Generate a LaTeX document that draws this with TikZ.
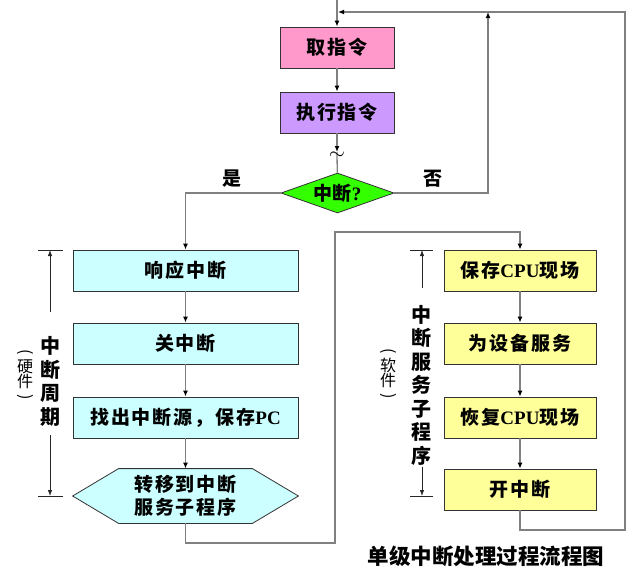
\documentclass[tikz,border=0pt]{standalone}
\usepackage{fontspec}
\setmainfont{Liberation Serif}
\newfontfamily\cjk{Noto Sans CJK SC}[LetterSpace=10]
\newfontfamily\cjkplain{Noto Sans CJK SC}
\usetikzlibrary{arrows.meta,shapes.geometric,backgrounds}
\newcommand\lat[1]{{\rmfamily\bfseries #1}}
\definecolor{pinkbox}{HTML}{FF99CC}
\definecolor{purplebox}{HTML}{CC99FF}
\definecolor{greendia}{HTML}{33FF00}
\definecolor{cyanbox}{HTML}{CCFFFF}
\definecolor{yellowbox}{HTML}{FFFF99}
\definecolor{linegray}{HTML}{808080}
\tikzset{
  box/.style={draw=black!80, line width=0.8pt, minimum height=41pt, inner sep=0pt,
    font=\cjk\bfseries\fontsize{19}{23}\selectfont},
  dia/.style={diamond, draw=black!80, line width=0.8pt, fill=greendia, aspect=2.8,
    minimum width=113pt, minimum height=40pt, inner sep=0pt,
    font=\cjkplain\bfseries\fontsize{19}{23}\selectfont},
  conn/.style={draw=linegray, line width=1.3pt, -{Latex[length=6pt,width=5pt,color=black]}},
  plainline/.style={draw=linegray, line width=1.3pt},
  brk/.style={draw=black!85, line width=0.8pt},
  brkarrow/.style={draw=black!85, line width=0.8pt, -{Latex[length=6pt,width=4.5pt]}},
  vlab/.style={align=center, inner sep=0pt, font=\cjkplain\bfseries\fontsize{20}{23.5}\selectfont},
  vsmall/.style={align=center, inner sep=0pt, font=\cjkplain\fontsize{16}{15}\selectfont},
  lab/.style={inner sep=0pt, font=\cjkplain\bfseries\fontsize{19}{23}\selectfont}
}
\begin{document}
\begin{tikzpicture}[x=1pt,y=-1pt]
\useasboundingbox (0,0) rectangle (632,584);
% main column
\node[box, fill=pinkbox, minimum width=114pt] (fetch) at (337,47.5) {取指令};
\node[box, fill=purplebox, minimum width=114pt] (exec) at (337,112.5) {执行指令};
\node[dia] (dec) at (337.5,193) {中断\lat{?}};
% left column
\node[box, fill=cyanbox, minimum width=225pt] (resp) at (185.5,270.5) {响应中断};
\node[box, fill=cyanbox, minimum width=225pt] (close) at (185.5,343.5) {关中断};
\node[box, fill=cyanbox, minimum width=225pt] (find) at (185.5,417.5) {找出中断源，保存\lat{PC}};
\node[box, draw=none, minimum width=225pt, minimum height=54pt, align=center] (jump) at (185.5,496) {转移到中断\\服务子程序};
\begin{pgfonlayer}{background}
\draw[draw=black!80, line width=0.8pt, fill=cyanbox]
  (jump.west) -- ([xshift=46pt]jump.north west) -- ([xshift=-46pt]jump.north east)
  -- (jump.east) -- ([xshift=-46pt]jump.south east) -- ([xshift=46pt]jump.south west) -- cycle;
\end{pgfonlayer}
% right column
\node[box, fill=yellowbox, minimum width=152pt] (save) at (520,270.5) {保存\lat{CPU}现场};
\node[box, fill=yellowbox, minimum width=152pt] (serve) at (520,343.5) {为设备服务};
\node[box, fill=yellowbox, minimum width=152pt] (restore) at (520,417.5) {恢复\lat{CPU}现场};
\node[box, fill=yellowbox, minimum width=152pt] (enable) at (520,489.5) {开中断};
% coordinates
\coordinate (top) at (337,0);
\coordinate (tl) at (337,152);
\coordinate (notop) at (488,12);
\coordinate (entry) at (338,12);
\coordinate (lb) at (625,530);
\coordinate (lt) at (625,12);
\coordinate (c2) at (335,543);
\coordinate (c3) at (335,232);
% connectors
\draw[conn] (top) -- (fetch);
\draw[conn] (fetch) -- (exec);
\draw[conn] (exec) -- (tl);
\draw[plainline] (tl) -- (dec);
\node[inner sep=0pt, font=\fontsize{20}{20}\selectfont] (tilde) at (337,156) {$\sim$};
\draw[conn] (dec.west) -| (resp);
\draw[conn] (dec.east) -| (notop);
\draw[conn] (enable) |- (lb) -- (lt) -- (entry);
\draw[conn] (resp) -- (close);
\draw[conn] (close) -- (find);
\draw[conn] (find) -- (jump);
\draw[conn] (jump) |- (c2) -- (c3) -| (save);
\draw[conn] (save) -- (serve);
\draw[conn] (serve) -- (restore);
\draw[conn] (restore) -- (enable);
% labels yes/no
\node[lab] (yes) at (232,179) {是};
\node[lab] (no) at (433,179) {否};
% hardware bracket
\coordinate (hwT) at (50,250);
\coordinate (hwB) at (50,496);
\coordinate (hw1) at (50,312);
\coordinate (hw2) at (50,435);
\draw[brk] ([xshift=-12pt]hwT) -- ([xshift=13pt]hwT);
\draw[brk] ([xshift=-12pt]hwB) -- ([xshift=13pt]hwB);
\draw[brkarrow] (hw1) -- (hwT);
\draw[brkarrow] (hw2) -- (hwB);
\node[vlab] (hwlab) at (50,381.5) {中\\断\\周\\期};
\node[vsmall] (hwsub) at (25,376) {\rotatebox[origin=c]{-90}{(}\\硬\\件\\\rotatebox[origin=c]{-90}{)}};
% software bracket
\coordinate (swT) at (422,250);
\coordinate (swB) at (422,496);
\coordinate (sw1) at (422,288);
\coordinate (sw2) at (422,467);
\draw[brk] ([xshift=-12pt]swT) -- ([xshift=11pt]swT);
\draw[brk] ([xshift=-12pt]swB) -- ([xshift=11pt]swB);
\draw[brkarrow] (sw1) -- (swT);
\draw[brkarrow] (sw2) -- (swB);
\node[vlab] (swlab) at (421,385) {中\\断\\服\\务\\子\\程\\序};
\node[vsmall] (swsub) at (388,375) {\rotatebox[origin=c]{-90}{(}\\软\\件\\\rotatebox[origin=c]{-90}{)}};
% caption
\node[inner sep=0pt, font=\cjkplain\bfseries\fontsize{21.5}{26}\selectfont] (cap) at (486,556) {单级中断处理过程流程图};
\end{tikzpicture}
\end{document}
